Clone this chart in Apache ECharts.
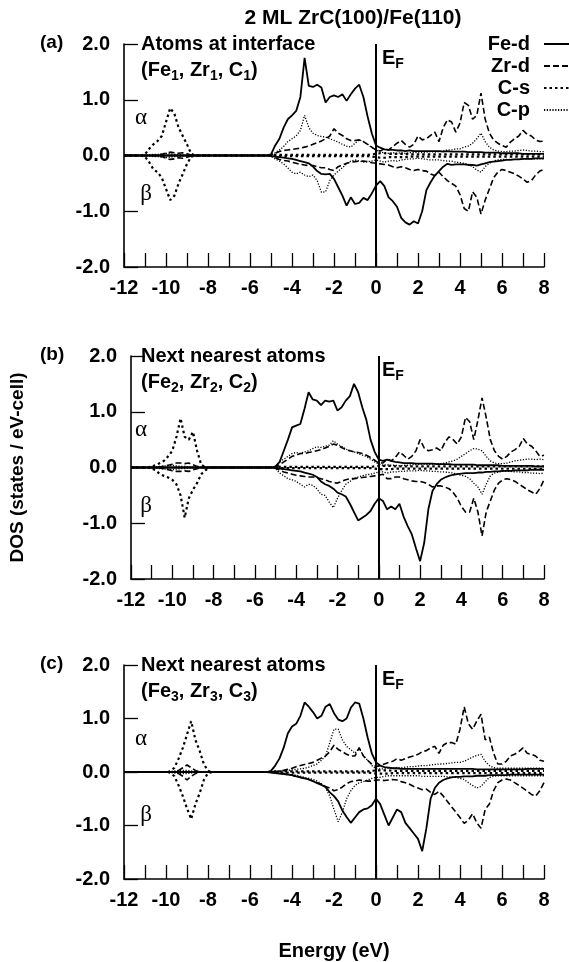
<!DOCTYPE html>
<html><head><meta charset="utf-8">
<script src="https://cdn.jsdelivr.net/npm/echarts@6.0.0/dist/echarts.min.js"></script>
<style>html,body{margin:0;padding:0;background:#fff}#c{width:569px;height:962px}</style>
</head><body><div id="c"></div>
<script>
const energy = [
 -12,-11.2,-11,-10.8,-10.6,-10.4,-10.2,-10,-9.8,-9.6,-9.4,
 -9.2,-9,-8.8,-8.6,-8.4,-8.2,-8,-7.8,-7,-6,-5.4,
 -5.2,-5,-4.8,-4.6,-4.4,-4.2,-4,-3.8,-3.6,-3.4,
 -3.2,-3,-2.8,-2.6,-2.4,-2.2,-2,-1.8,-1.6,-1.4,
 -1.2,-1,-0.8,-0.6,-0.4,-0.2,0,0.2,0.4,0.6,
 0.8,1,1.2,1.4,1.6,1.8,2,2.2,2.4,2.6,
 2.8,3,3.2,3.4,3.6,3.8,4,4.2,4.4,4.6,
 4.8,5,5.2,5.4,5.6,5.8,6,6.2,6.4,6.6,
 6.8,7,7.2,7.4,7.6,7.8,8];

const xTicks = [-12,-10,-8,-6,-4,-2,0,2,4,6,8];
const yTicks = ['-2.0','-1.0','0.0','1.0','2.0'];
const legendNames = ['Fe-d','Zr-d','C-s','C-p'];
const panelTags = ['(a)','(b)','(c)'];
const panelTitles = ['Atoms at interface','Next nearest atoms','Next nearest atoms'];

/* ---------- panel (a) ---------- */
const aFeU = [
0,0,0,0,0,0,0,0,0,0,0,
0,0,0,0,0,0,0,0,0,0,0,
0,0.02,0.18,0.3,0.5,0.65,0.72,0.8,1.05,1.75,
1.25,1.23,1.27,1.22,0.95,1.05,1.08,1.05,1.1,0.98,
1.1,1.2,1.27,1.05,0.7,0.4,0.18,0.14,0.11,0.1,
0.1,0.09,0.09,0.08,0.09,0.08,0.08,0.08,0.08,0.08,
0.08,0.08,0.07,0.08,0.07,0.07,0.07,0.07,0.06,0.06,
0.06,0.06,0.05,0.05,0.05,0.05,0.04,0.04,0.04,0.04,
0.04,0.03,0.03,0.03,0.03,0.03,0.03];
const aFeD = [
0,0,0,0,0,0,0,0,0,0,0,
0,0,0,0,0,0,0,0,0,0,0,
0,-0.01,-0.02,-0.03,-0.04,-0.05,-0.06,-0.08,-0.1,-0.12,
-0.14,-0.2,-0.28,-0.33,-0.34,-0.33,-0.42,-0.57,-0.72,-0.9,
-0.75,-0.87,-0.85,-0.76,-0.8,-0.68,-0.54,-0.46,-0.55,-0.75,
-0.82,-0.92,-1.12,-1.2,-1.24,-1.18,-1.22,-1.0,-0.62,-0.48,
-0.36,-0.28,-0.2,-0.15,-0.17,-0.16,-0.16,-0.16,-0.17,-0.17,
-0.18,-0.16,-0.14,-0.12,-0.11,-0.1,-0.09,-0.08,-0.08,-0.07,
-0.07,-0.06,-0.06,-0.06,-0.05,-0.05,-0.05];
const aZrU = [
0,0,0,0,0,0,0.02,0.04,0.06,0.05,0.04,
0.05,0.03,0.01,0,0,0,0,0,0,0,0,
0,0.01,0.04,0.07,0.09,0.1,0.11,0.12,0.13,0.15,
0.17,0.2,0.23,0.26,0.3,0.35,0.48,0.4,0.36,0.3,
0.27,0.27,0.28,0.25,0.2,0.15,0.1,0.08,0.12,0.1,
0.16,0.22,0.27,0.2,0.15,0.2,0.35,0.28,0.3,0.36,
0.42,0.25,0.5,0.64,0.6,0.42,0.58,0.95,0.9,0.65,
0.72,1.12,0.65,0.4,0.28,0.22,0.18,0.15,0.24,0.3,
0.35,0.45,0.38,0.35,0.28,0.25,0.26];
const aZrD = [
0,0,0,0,0,0,-0.02,-0.05,-0.07,-0.06,-0.04,
-0.05,-0.03,-0.01,0,0,0,0,0,0,0,0,
0,-0.01,-0.04,-0.07,-0.09,-0.1,-0.12,-0.14,-0.16,-0.17,
-0.18,-0.18,-0.2,-0.22,-0.22,-0.25,-0.27,-0.2,-0.17,-0.14,
-0.12,-0.11,-0.1,-0.1,-0.11,-0.13,-0.14,-0.15,-0.16,-0.17,
-0.2,-0.22,-0.2,-0.22,-0.25,-0.27,-0.25,-0.27,-0.28,-0.33,
-0.36,-0.3,-0.38,-0.45,-0.5,-0.55,-0.7,-0.95,-1.0,-0.65,
-0.75,-1.05,-0.8,-0.6,-0.4,-0.3,-0.25,-0.27,-0.3,-0.33,
-0.37,-0.42,-0.48,-0.45,-0.35,-0.28,-0.25];
const aCsU = [
0,0,0.02,0.12,0.2,0.26,0.35,0.6,0.85,0.75,0.5,
0.35,0.2,0.03,0,0,0,0,0,0,0,0,
0,0,0.01,0.01,0.01,0.01,0.01,0.01,0.01,0.01,
0.01,0.01,0.01,0.01,0.01,0.01,0.01,0.01,0.01,0.01,
0.01,0.01,0.01,0.01,0.01,0.02,0.03,0.04,0.04,0.03,
0.03,0.03,0.03,0.03,0.02,0.02,0.02,0.02,0.02,0.02,
0.02,0.02,0.02,0.02,0.02,0.02,0.02,0.02,0.02,0.02,
0.02,0.02,0.02,0.02,0.02,0.02,0.02,0.02,0.02,0.02,
0.02,0.02,0.02,0.02,0.02,0.02,0.02];
const aCsD = [
0,0,-0.02,-0.12,-0.25,-0.3,-0.4,-0.6,-0.8,-0.72,-0.5,
-0.33,-0.15,-0.02,0,0,0,0,0,0,0,0,
0,0,-0.01,-0.01,-0.01,-0.01,-0.01,-0.01,-0.01,-0.01,
-0.01,-0.01,-0.01,-0.01,-0.01,-0.01,-0.01,-0.01,-0.01,-0.01,
-0.01,-0.01,-0.01,-0.01,-0.01,-0.02,-0.03,-0.04,-0.04,-0.03,
-0.03,-0.03,-0.03,-0.03,-0.02,-0.02,-0.02,-0.02,-0.02,-0.02,
-0.02,-0.02,-0.02,-0.02,-0.02,-0.02,-0.02,-0.02,-0.02,-0.02,
-0.02,-0.02,-0.02,-0.02,-0.02,-0.02,-0.02,-0.02,-0.02,-0.02,
-0.02,-0.02,-0.02,-0.02,-0.02,-0.02,-0.02];
const aCpU = [
0,0,0,0.01,0.02,0.02,0.03,0.04,0.03,0.02,0.01,
0.01,0,0,0,0,0,0,0,0,0,0,
0,0.01,0.05,0.1,0.16,0.25,0.3,0.35,0.45,0.72,
0.5,0.4,0.36,0.34,0.33,0.3,0.27,0.24,0.2,0.17,
0.15,0.22,0.28,0.25,0.2,0.14,0.1,0.06,0.05,0.04,
0.05,0.04,0.05,0.04,0.05,0.05,0.06,0.05,0.06,0.07,
0.06,0.07,0.08,0.1,0.1,0.12,0.12,0.15,0.17,0.22,
0.3,0.4,0.25,0.15,0.1,0.08,0.07,0.07,0.08,0.08,
0.09,0.1,0.09,0.08,0.08,0.07,0.07];
const aCpD = [
0,0,0,-0.01,-0.02,-0.02,-0.03,-0.04,-0.03,-0.02,-0.01,
-0.01,0,0,0,0,0,0,0,0,0,0,
0,-0.01,-0.06,-0.1,-0.15,-0.22,-0.3,-0.33,-0.3,-0.35,
-0.38,-0.35,-0.45,-0.66,-0.65,-0.45,-0.35,-0.28,-0.22,-0.15,
-0.1,-0.08,-0.1,-0.12,-0.11,-0.1,-0.08,-0.1,-0.12,-0.1,
-0.09,-0.1,-0.08,-0.07,-0.06,-0.06,-0.05,-0.06,-0.07,-0.08,
-0.08,-0.08,-0.09,-0.1,-0.1,-0.12,-0.13,-0.14,-0.16,-0.2,
-0.26,-0.3,-0.2,-0.14,-0.1,-0.08,-0.07,-0.07,-0.07,-0.07,
-0.07,-0.06,-0.06,-0.06,-0.06,-0.06,-0.06];

/* ---------- panel (b) ---------- */
const bFeU = [
0,0,0,0,0,0,0,0,0,0,0,
0,0,0,0,0,0,0,0,0,0,0,
0,0.02,0.1,0.3,0.5,0.72,0.75,0.78,1.05,1.35,
1.22,1.2,1.12,1.2,1.18,1.2,1.02,1.08,1.2,1.28,
1.5,1.35,1.08,0.85,0.5,0.28,0.14,0.12,0.14,0.12,
0.1,0.09,0.08,0.08,0.08,0.07,0.07,0.07,0.07,0.07,
0.06,0.06,0.06,0.06,0.05,0.05,0.05,0.05,0.05,0.05,
0.04,0.04,0.04,0.04,0.04,0.04,0.03,0.03,0.03,0.03,
0.03,0.03,0.03,0.03,0.02,0.02,0.02];
const bFeD = [
0,0,0,0,0,0,0,0,0,0,0,
0,0,0,0,0,0,0,0,0,0,0,
0,-0.01,-0.02,-0.03,-0.04,-0.05,-0.06,-0.07,-0.09,-0.11,
-0.13,-0.17,-0.25,-0.3,-0.33,-0.38,-0.45,-0.48,-0.52,-0.65,
-0.8,-0.95,-0.9,-0.85,-0.78,-0.65,-0.55,-0.6,-0.75,-0.7,
-0.75,-0.65,-0.88,-1.05,-1.2,-1.45,-1.68,-1.35,-0.75,-0.42,
-0.3,-0.22,-0.18,-0.15,-0.13,-0.12,-0.11,-0.1,-0.1,-0.1,
-0.09,-0.09,-0.08,-0.08,-0.07,-0.07,-0.06,-0.06,-0.06,-0.05,
-0.05,-0.05,-0.05,-0.04,-0.04,-0.04,-0.04];
const bZrU = [
0,0,0,0,0.01,0.02,0.04,0.06,0.08,0.08,0.07,
0.08,0.05,0.02,0,0,0,0,0,0,0,0,
0,0.01,0.05,0.1,0.15,0.2,0.22,0.25,0.25,0.27,
0.28,0.3,0.32,0.35,0.38,0.42,0.4,0.36,0.32,0.3,
0.28,0.27,0.25,0.22,0.18,0.13,0.08,0.08,0.15,0.12,
0.18,0.28,0.22,0.15,0.2,0.3,0.5,0.35,0.3,0.32,
0.35,0.3,0.45,0.55,0.5,0.42,0.55,0.9,0.82,0.5,
0.85,1.25,0.9,0.5,0.3,0.2,0.15,0.2,0.28,0.32,
0.38,0.52,0.42,0.38,0.3,0.2,0.22];
const bZrD = [
0,0,0,0,-0.01,-0.02,-0.04,-0.06,-0.07,-0.07,-0.06,
-0.07,-0.04,-0.02,0,0,0,0,0,0,0,0,
0,-0.01,-0.05,-0.08,-0.1,-0.12,-0.14,-0.15,-0.16,-0.17,
-0.17,-0.18,-0.2,-0.22,-0.25,-0.27,-0.28,-0.25,-0.22,-0.2,
-0.2,-0.19,-0.18,-0.17,-0.16,-0.15,-0.14,-0.12,-0.2,-0.2,
-0.17,-0.17,-0.2,-0.22,-0.24,-0.25,-0.25,-0.27,-0.3,-0.35,
-0.33,-0.33,-0.35,-0.38,-0.45,-0.55,-0.7,-0.8,-0.8,-0.55,
-0.8,-1.23,-0.8,-0.6,-0.4,-0.28,-0.22,-0.2,-0.22,-0.25,
-0.3,-0.35,-0.4,-0.44,-0.48,-0.38,-0.22];
const bCsU = [
0,0,0.02,0.04,0.08,0.12,0.2,0.3,0.55,0.88,0.55,
0.5,0.64,0.3,0.05,0,0,0,0,0,0,0,
0,0,0.01,0.01,0.01,0.01,0.01,0.01,0.01,0.01,
0.01,0.01,0.01,0.01,0.01,0.01,0.01,0.01,0.01,0.01,
0.01,0.01,0.01,0.01,0.01,0.02,0.03,0.03,0.03,0.03,
0.02,0.02,0.02,0.02,0.02,0.02,0.02,0.02,0.02,0.02,
0.02,0.02,0.02,0.02,0.02,0.02,0.02,0.02,0.02,0.02,
0.02,0.02,0.02,0.02,0.02,0.02,0.02,0.02,0.02,0.02,
0.02,0.02,0.02,0.02,0.02,0.02,0.02];
const bCsD = [
0,0,-0.02,-0.05,-0.12,-0.15,-0.18,-0.22,-0.3,-0.5,-0.9,
-0.55,-0.4,-0.28,-0.12,-0.05,0,0,0,0,0,0,
0,0,-0.01,-0.01,-0.01,-0.01,-0.01,-0.01,-0.01,-0.01,
-0.01,-0.01,-0.01,-0.01,-0.01,-0.01,-0.01,-0.01,-0.01,-0.01,
-0.01,-0.01,-0.01,-0.01,-0.01,-0.02,-0.03,-0.03,-0.03,-0.03,
-0.02,-0.02,-0.02,-0.02,-0.02,-0.02,-0.02,-0.02,-0.02,-0.02,
-0.02,-0.02,-0.02,-0.02,-0.02,-0.02,-0.02,-0.02,-0.02,-0.02,
-0.02,-0.02,-0.02,-0.02,-0.02,-0.02,-0.02,-0.02,-0.02,-0.02,
-0.02,-0.02,-0.02,-0.02,-0.02,-0.02,-0.02];
const bCpU = [
0,0,0,0.01,0.02,0.03,0.03,0.04,0.03,0.02,0.02,
0.01,0.01,0,0,0,0,0,0,0,0,0,
0,0.02,0.1,0.15,0.2,0.25,0.27,0.25,0.28,0.3,
0.34,0.37,0.36,0.38,0.4,0.48,0.42,0.38,0.33,0.3,
0.28,0.25,0.22,0.2,0.15,0.1,0.06,0.04,0.05,0.04,
0.04,0.03,0.04,0.04,0.05,0.05,0.06,0.06,0.05,0.06,
0.07,0.07,0.08,0.1,0.12,0.15,0.2,0.25,0.3,0.34,
0.33,0.3,0.2,0.12,0.08,0.07,0.07,0.08,0.1,0.12,
0.13,0.14,0.15,0.15,0.14,0.15,0.14];
const bCpD = [
0,0,0,-0.01,-0.02,-0.03,-0.03,-0.04,-0.03,-0.02,-0.02,
-0.01,-0.01,0,0,0,0,0,0,0,0,0,
0,-0.02,-0.1,-0.15,-0.2,-0.22,-0.25,-0.3,-0.35,-0.3,
-0.32,-0.38,-0.48,-0.5,-0.62,-0.72,-0.55,-0.42,-0.3,-0.25,
-0.2,-0.17,-0.15,-0.13,-0.12,-0.1,-0.08,-0.08,-0.1,-0.08,
-0.08,-0.07,-0.07,-0.06,-0.06,-0.06,-0.05,-0.06,-0.06,-0.07,
-0.07,-0.08,-0.08,-0.09,-0.1,-0.12,-0.14,-0.16,-0.2,-0.28,
-0.35,-0.48,-0.3,-0.15,-0.1,-0.08,-0.07,-0.07,-0.07,-0.08,
-0.08,-0.09,-0.09,-0.1,-0.1,-0.11,-0.1];

/* ---------- panel (c) ---------- */
const cFeU = [
0,0,0,0,0,0,0,0,0,0,0,
0,0,0,0,0,0,0,0,0,0,0,
0,0.02,0.12,0.25,0.45,0.72,0.85,0.9,1.05,1.3,
1.22,1.12,1.0,1.05,1.22,1.27,1.1,0.98,0.95,1.0,
1.2,1.3,1.28,1.0,0.65,0.35,0.18,0.12,0.09,0.08,
0.07,0.07,0.06,0.06,0.06,0.06,0.06,0.06,0.06,0.06,
0.06,0.06,0.06,0.06,0.06,0.06,0.06,0.06,0.06,0.06,
0.05,0.05,0.05,0.05,0.05,0.05,0.05,0.05,0.05,0.05,
0.05,0.05,0.06,0.06,0.06,0.06,0.06];
const cFeD = [
0,0,0,0,0,0,0,0,0,0,0,
0,0,0,0,0,0,0,0,0,0,0,
0,-0.01,-0.02,-0.03,-0.04,-0.05,-0.06,-0.08,-0.1,-0.12,
-0.14,-0.17,-0.21,-0.24,-0.28,-0.38,-0.45,-0.55,-0.72,-0.84,
-0.95,-0.85,-0.75,-0.7,-0.68,-0.62,-0.5,-0.6,-0.8,-1.0,
-0.85,-0.7,-0.75,-0.95,-1.05,-1.15,-1.25,-1.48,-1.05,-0.5,
-0.3,-0.2,-0.15,-0.12,-0.1,-0.09,-0.09,-0.08,-0.08,-0.08,
-0.07,-0.07,-0.07,-0.06,-0.06,-0.06,-0.06,-0.06,-0.05,-0.05,
-0.05,-0.05,-0.05,-0.05,-0.05,-0.05,-0.05];
const cZrU = [
0,0,0,0,0,0,0,0,0,0,0.03,
0.08,0.13,0.08,0.03,0,0,0,0,0,0,0,
0,0,0.01,0.02,0.03,0.05,0.07,0.1,0.12,0.14,
0.16,0.18,0.22,0.26,0.3,0.38,0.5,0.42,0.38,0.33,
0.3,0.3,0.45,0.3,0.22,0.15,0.1,0.12,0.15,0.18,
0.2,0.25,0.22,0.25,0.28,0.3,0.33,0.38,0.4,0.45,
0.48,0.35,0.5,0.55,0.55,0.52,0.8,1.22,0.9,0.8,
0.95,1.08,0.6,0.65,0.35,0.15,0.15,0.2,0.3,0.33,
0.38,0.45,0.35,0.33,0.3,0.22,0.2];
const cZrD = [
0,0,0,0,0,0,0,0,0,0,-0.03,
-0.08,-0.15,-0.08,-0.03,0,0,0,0,0,0,0,
0,0,-0.01,-0.02,-0.03,-0.05,-0.06,-0.08,-0.1,-0.12,
-0.14,-0.17,-0.2,-0.23,-0.27,-0.3,-0.35,-0.33,-0.28,-0.22,
-0.18,-0.17,-0.15,-0.16,-0.17,-0.17,-0.15,-0.15,-0.16,-0.15,
-0.14,-0.15,-0.18,-0.2,-0.23,-0.27,-0.3,-0.33,-0.32,-0.38,
-0.42,-0.36,-0.45,-0.55,-0.65,-0.75,-0.85,-0.96,-0.9,-0.78,
-0.95,-1.05,-0.7,-0.6,-0.35,-0.2,-0.15,-0.13,-0.15,-0.2,
-0.25,-0.3,-0.36,-0.42,-0.45,-0.35,-0.2];
const cCsU = [
0,0,0,0,0,0,0,0,0.01,0.08,0.25,
0.45,0.7,0.95,0.6,0.4,0.15,0.02,0,0,0,0,
0,0,0.01,0.01,0.01,0.01,0.01,0.01,0.01,0.01,
0.01,0.01,0.01,0.01,0.01,0.01,0.01,0.01,0.01,0.01,
0.01,0.01,0.01,0.01,0.01,0.02,0.03,0.03,0.03,0.03,
0.02,0.02,0.02,0.02,0.02,0.02,0.02,0.02,0.02,0.02,
0.02,0.02,0.02,0.02,0.02,0.02,0.02,0.02,0.02,0.02,
0.02,0.02,0.02,0.02,0.02,0.02,0.02,0.02,0.02,0.02,
0.02,0.02,0.02,0.02,0.02,0.02,0.02];
const cCsD = [
0,0,0,0,0,0,0,0,-0.01,-0.08,-0.25,
-0.45,-0.68,-0.88,-0.6,-0.4,-0.15,-0.02,0,0,0,0,
0,0,-0.01,-0.01,-0.01,-0.01,-0.01,-0.01,-0.01,-0.01,
-0.01,-0.01,-0.01,-0.01,-0.01,-0.01,-0.01,-0.01,-0.01,-0.01,
-0.01,-0.01,-0.01,-0.01,-0.01,-0.02,-0.03,-0.03,-0.03,-0.03,
-0.02,-0.02,-0.02,-0.02,-0.02,-0.02,-0.02,-0.02,-0.02,-0.02,
-0.02,-0.02,-0.02,-0.02,-0.02,-0.02,-0.02,-0.02,-0.02,-0.02,
-0.02,-0.02,-0.02,-0.02,-0.02,-0.02,-0.02,-0.02,-0.02,-0.02,
-0.02,-0.02,-0.02,-0.02,-0.02,-0.02,-0.02];
const cCpU = [
0,0,0,0,0,0,0,0,0.01,0.02,0.03,
0.03,0.03,0.02,0.01,0,0,0,0,0,0,0,
0,0,0.01,0.01,0.02,0.03,0.04,0.05,0.06,0.07,
0.09,0.12,0.15,0.22,0.3,0.55,0.8,0.8,0.6,0.48,
0.42,0.35,0.45,0.3,0.22,0.12,0.06,0.06,0.06,0.07,
0.07,0.08,0.08,0.09,0.1,0.1,0.11,0.12,0.12,0.13,
0.14,0.15,0.15,0.16,0.17,0.18,0.18,0.2,0.24,0.28,
0.31,0.33,0.2,0.12,0.08,0.07,0.07,0.07,0.07,0.07,
0.07,0.07,0.07,0.07,0.07,0.07,0.07];
const cCpD = [
0,0,0,0,0,0,0,0,-0.01,-0.02,-0.03,
-0.03,-0.03,-0.02,-0.01,0,0,0,0,0,0,0,
0,0,-0.01,-0.02,-0.03,-0.04,-0.05,-0.06,-0.08,-0.1,
-0.12,-0.14,-0.17,-0.22,-0.3,-0.45,-0.7,-0.93,-0.75,-0.5,
-0.35,-0.25,-0.2,-0.18,-0.15,-0.12,-0.1,-0.1,-0.08,-0.07,
-0.07,-0.07,-0.07,-0.07,-0.07,-0.07,-0.07,-0.08,-0.08,-0.08,
-0.08,-0.08,-0.08,-0.09,-0.09,-0.1,-0.12,-0.14,-0.2,-0.25,
-0.3,-0.27,-0.18,-0.1,-0.08,-0.07,-0.07,-0.07,-0.07,-0.07,
-0.07,-0.07,-0.07,-0.07,-0.07,-0.07,-0.07];

const panels = [
  {'Fe-d':[aFeU,aFeD],'Zr-d':[aZrU,aZrD],'C-s':[aCsU,aCsD],'C-p':[aCpU,aCpD]},
  {'Fe-d':[bFeU,bFeD],'Zr-d':[bZrU,bZrD],'C-s':[bCsU,bCsD],'C-p':[bCpU,bCpD]},
  {'Fe-d':[cFeU,cFeD],'Zr-d':[cZrU,cZrD],'C-s':[cCsU,cCsD],'C-p':[cCpU,cCpD]}
];
panels.forEach((p,pi)=>Object.keys(p).forEach(k=>p[k].forEach((a,j)=>{
  if(a.length!==energy.length) throw new Error('length mismatch panel '+pi+' '+k+' '+j+': '+a.length);
})));

/* ---------- layout / style ---------- */
const FONT = '"Liberation Sans", Arial, Helvetica, sans-serif';
const SERIF = '"Liberation Serif", "Times New Roman", serif';
const gridTops = [44, 356, 665];
const GRID_H = 223, GRID_L = 124, GRID_W = 420;
const lineStyles = {
  'Fe-d': {color:'#000', width:1.8, type:'solid'},
  'Zr-d': {color:'#000', width:1.6, type:[6,3]},
  'C-s':  {color:'#000', width:2.2, type:[2.5,3]},
  'C-p':  {color:'#000', width:1.3, type:[1.2,1.6]}
};
const labelStyle = {color:'#000', fontSize:20, fontWeight:'bold', fontFamily:FONT};

const grid = gridTops.map(t=>({left:GRID_L, top:t, width:GRID_W, height:GRID_H}));
const xAxis = gridTops.map((t,i)=>({
  type:'value', gridIndex:i, min:-12, max:8, interval:1,
  axisLine:{show:true, onZero:false, lineStyle:{color:'#000', width:1.6}},
  axisTick:{show:true, inside:true, length:14, lineStyle:{color:'#000', width:1.3}},
  axisLabel:Object.assign({margin:11, formatter:v=>xTicks.indexOf(v)>=0?String(v):''}, labelStyle),
  splitLine:{show:false},
  name: i===2 ? 'Energy (eV)' : '', nameLocation:'middle', nameGap:62,
  nameTextStyle: labelStyle
}));
const yAxis = gridTops.map((t,i)=>({
  type:'value', gridIndex:i, min:-2, max:2, interval:1,
  axisLine:{show:true, onZero:false, lineStyle:{color:'#000', width:1.6}},
  axisTick:{show:true, inside:true, length:14, lineStyle:{color:'#000', width:1.3}},
  axisLabel:Object.assign({margin:14, formatter:v=>yTicks[Math.round(v)+2]}, labelStyle),
  splitLine:{show:false},
  name: i===1 ? 'DOS (states / eV-cell)' : '', nameLocation:'middle', nameGap:104, nameRotate:90,
  nameTextStyle: Object.assign({}, labelStyle, {fontSize:19})
}));

const series = [];
panels.forEach((p,pi)=>{
  legendNames.forEach((name,ni)=>{
    p[name].forEach((arr,si)=>{
      const s = {
        type:'line', name, xAxisIndex:pi, yAxisIndex:pi, symbol:'none', silent:true,
        animation:false, lineStyle:lineStyles[name], itemStyle:{color:'#000'},
        data: energy.map((e,k)=>[e, arr[k]]), z: 3 - ni*0.1
      };
      if(ni===0 && si===0){
        s.markLine = {symbol:['none','none'], silent:true, animation:false,
          label:{show:false}, lineStyle:{color:'#000', type:'solid', width:2},
          data:[{xAxis:0}]};
      }
      series.push(s);
    });
  });
});

/* ---------- text annotations ---------- */
const mctx = document.createElement('canvas').getContext('2d');
function tw(t, font){ mctx.font = font; return mctx.measureText(t).width; }
function txt(x, y, t, font, align){
  return {type:'text', x, y, silent:true, z:100,
    style:{text:t, font, fill:'#000', align:align||'left', verticalAlign:'middle',
           textAlign:align||'left', textVerticalAlign:'middle'}};
}
function run(x, y, parts){
  const out=[]; let cx=x;
  parts.forEach(([t,sub])=>{
    const f = sub ? 'bold 14px '+FONT : 'bold 20px '+FONT;
    out.push(txt(cx, sub ? y+6 : y, t, f));
    cx += tw(t, f);
  });
  return out;
}
const graphics = [];
graphics.push(txt(353, 18, '2 ML ZrC(100)/Fe(110)', 'bold 21px '+FONT, 'center'));
gridTops.forEach((t,i)=>{
  const n = String(i+1);
  graphics.push(txt(40, t-1, panelTags[i], 'bold 19px '+FONT));
  graphics.push(txt(141, t, panelTitles[i], 'bold 20px '+FONT));
  run(141, t+26, [['(Fe',0],[n,1],[', Zr',0],[n,1],[', C',0],[n,1],[')',0]]).forEach(g=>graphics.push(g));
  run(382, t+14, [['E',0],['F',1]]).forEach(g=>graphics.push(g));
  graphics.push(txt(141, t+74, 'α', '23px '+SERIF, 'center'));
  graphics.push(txt(146, t+150, 'β', '23px '+SERIF, 'center'));
});

const chart = echarts.init(document.getElementById('c'), null, {renderer:'canvas'});
chart.setOption({
  animation:false,
  backgroundColor:'#fff',
  grid, xAxis, yAxis, series,
  legend:{
    data:legendNames, orient:'vertical', right:-8, top:34, align:'right',
    itemWidth:32, itemHeight:12, itemGap:2, padding:0, selectedMode:false,
    itemStyle:{color:'rgba(0,0,0,0)', borderColor:'rgba(0,0,0,0)', borderWidth:0, opacity:0},
    textStyle:Object.assign({}, labelStyle, {lineHeight:20, padding:[0,9,0,0]})
  },
  graphic: graphics
});
</script>
</body></html>
